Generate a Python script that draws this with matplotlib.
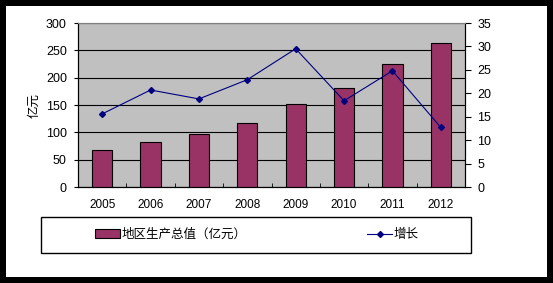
import matplotlib.pyplot as plt
from matplotlib.patches import Rectangle

plt.rcParams['font.family'] = ['Liberation Sans', 'Noto Sans CJK SC']

years = ['2005', '2006', '2007', '2008', '2009', '2010', '2011', '2012']
gdp = [68, 82, 97, 117, 152, 181, 225, 263]
growth = [15.6, 20.7, 18.8, 22.9, 29.5, 18.4, 24.8, 12.7]

fig = plt.figure(figsize=(5.53, 2.83), dpi=100)
fig.patch.set_facecolor('black')
fig.patches.append(Rectangle((6 / 553, 6 / 283), 541 / 553, 271 / 283,
                             transform=fig.transFigure, facecolor='white',
                             edgecolor='none', zorder=-10))

ax = fig.add_axes([78 / 553, 1 - 187 / 283, 387 / 553, 164 / 283])
ax.set_facecolor('#C0C0C0')
x = list(range(len(years)))
bars = ax.bar(x, gdp, width=0.42, color='#993366', edgecolor='black',
              linewidth=0.8, zorder=3, label='地区生产总值（亿元）')
ax.set_ylim(0, 300)
ax.set_yticks(range(0, 301, 50))
ax.set_xlim(-0.5, len(years) - 0.5)
ax.set_xticks(x)
ax.set_xticklabels(years)
ax.set_xticks([i + 0.5 for i in x[:-1]], minor=True)
ax.tick_params(axis='x', which='major', length=0, pad=9, labelsize=8.5)
ax.tick_params(axis='x', which='minor', direction='in', length=3)
ax.tick_params(axis='y', length=3, pad=5, labelsize=9)
ax.grid(axis='y', color='black', linewidth=0.8, zorder=1)
ax.set_axisbelow(True)
ax.set_ylabel('亿元', fontsize=9, labelpad=4)
for s in ['left', 'bottom', 'right']:
    ax.spines[s].set_color('black')
    ax.spines[s].set_linewidth(0.8)
ax.spines['top'].set_color('#808080')

ax2 = ax.twinx()
line, = ax2.plot(x, growth, color='#000080', linewidth=0.8, marker='D',
                 markersize=3, label='增长', zorder=4)
ax2.set_ylim(0, 35)
ax2.set_yticks(range(0, 36, 5))
ax2.tick_params(axis='y', length=4, pad=5, labelsize=9)
ax2.spines['right'].set_linewidth(0.8)
ax2.spines['top'].set_color('#808080')

fig.patches.append(Rectangle((41 / 553, 1 - 253 / 283), 430 / 553, 36 / 283,
                             transform=fig.transFigure, facecolor='none',
                             edgecolor='black', linewidth=1))
fig.legend([bars, line], ['地区生产总值（亿元）', '增长'], loc='center',
           bbox_to_anchor=(257 / 553, 1 - 235 / 283), ncol=2, frameon=False,
           fontsize=9, handlelength=2.0, handletextpad=0.15,
           columnspacing=9.6)

fig.savefig('out.png', dpi=100, facecolor=fig.get_facecolor())
